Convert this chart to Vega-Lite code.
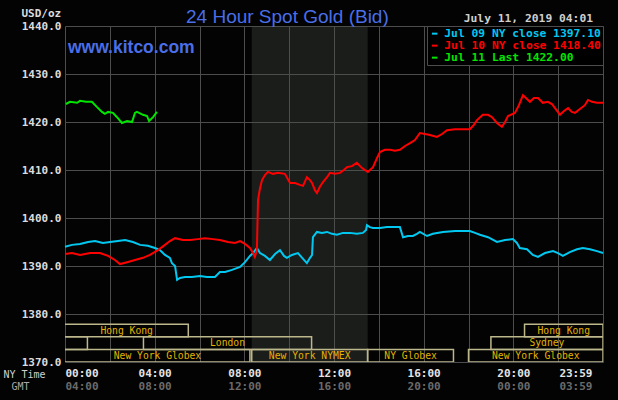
{
  "$schema": "https://vega.github.io/schema/vega-lite/v6.json",
  "width": 538,
  "height": 336,
  "autosize": {"type": "none"},
  "padding": {"left": 65, "top": 26, "right": 15, "bottom": 38},
  "background": "#030303",
  "config": {
    "view": {"stroke": null},
    "axis": {
      "domain": false,
      "ticks": false,
      "gridColor": "#4d4d4d",
      "gridWidth": 1,
      "labelFont": "DejaVu Sans Mono",
      "labelFontWeight": "bold",
      "labelFontSize": 11
    }
  },
  "title": {
    "text": "24 Hour Spot Gold (Bid)",
    "anchor": "start",
    "frame": "group",
    "dx": 121,
    "dy": 39,
    "offset": 4,
    "baseline": "alphabetic",
    "font": "Liberation Sans",
    "fontSize": 19,
    "fontWeight": "normal",
    "color": "#4a6ee8"
  },
  "datasets": {
    "nymex": [{"start": 8.33, "end": 13.5}],
    "sessions": [
      {"label": "Hong Kong", "start": -1.2, "end": 5.5, "lane": 2},
      {"label": "Hong Kong", "start": 20.5, "end": 24, "lane": 2},
      {"label": "", "start": -2, "end": 1, "lane": 1},
      {"label": "London", "start": 3.5, "end": 11, "lane": 1},
      {"label": "Sydney", "start": 19, "end": 24, "lane": 1},
      {"label": "New York Globex", "start": -0.95, "end": 8.25, "lane": 0},
      {"label": "New York NYMEX", "start": 8.33, "end": 13.5, "lane": 0},
      {"label": "NY Globex", "start": 13.5, "end": 17.33, "lane": 0},
      {"label": "New York Globex", "start": 18, "end": 24, "lane": 0}
    ],
    "gold": [
      {"s": "Jul 09", "h": 0, "p": 1394.0}, {"s": "Jul 09", "h": 0.31, "p": 1394.4}, {"s": "Jul 09", "h": 0.67, "p": 1394.6}, {"s": "Jul 09", "h": 1.03, "p": 1395.0}, {"s": "Jul 09", "h": 1.34, "p": 1395.2}, {"s": "Jul 09", "h": 1.69, "p": 1394.8}, {"s": "Jul 09", "h": 2.01, "p": 1395.0}, {"s": "Jul 09", "h": 2.36, "p": 1395.2}, {"s": "Jul 09", "h": 2.68, "p": 1395.4}, {"s": "Jul 09", "h": 3.03, "p": 1395.0}, {"s": "Jul 09", "h": 3.35, "p": 1394.4}, {"s": "Jul 09", "h": 3.70, "p": 1394.2}, {"s": "Jul 09", "h": 4.01, "p": 1393.75}, {"s": "Jul 09", "h": 4.24, "p": 1393.3}, {"s": "Jul 09", "h": 4.46, "p": 1392.3}, {"s": "Jul 09", "h": 4.68, "p": 1391.7}, {"s": "Jul 09", "h": 4.77, "p": 1390.6}, {"s": "Jul 09", "h": 4.91, "p": 1390.0}, {"s": "Jul 09", "h": 5.00, "p": 1387.1}, {"s": "Jul 09", "h": 5.13, "p": 1387.5}, {"s": "Jul 09", "h": 5.35, "p": 1387.7}, {"s": "Jul 09", "h": 5.66, "p": 1387.7}, {"s": "Jul 09", "h": 6.02, "p": 1387.9}, {"s": "Jul 09", "h": 6.33, "p": 1387.7}, {"s": "Jul 09", "h": 6.69, "p": 1387.7}, {"s": "Jul 09", "h": 6.91, "p": 1388.75}, {"s": "Jul 09", "h": 7.14, "p": 1388.75}, {"s": "Jul 09", "h": 7.45, "p": 1389.2}, {"s": "Jul 09", "h": 7.81, "p": 1389.8}, {"s": "Jul 09", "h": 8.03, "p": 1390.8}, {"s": "Jul 09", "h": 8.25, "p": 1392.1}, {"s": "Jul 09", "h": 8.39, "p": 1392.7}, {"s": "Jul 09", "h": 8.56, "p": 1393.75}, {"s": "Jul 09", "h": 8.70, "p": 1392.7}, {"s": "Jul 09", "h": 8.92, "p": 1392.1}, {"s": "Jul 09", "h": 9.14, "p": 1391.25}, {"s": "Jul 09", "h": 9.37, "p": 1392.5}, {"s": "Jul 09", "h": 9.59, "p": 1393.3}, {"s": "Jul 09", "h": 9.77, "p": 1392.1}, {"s": "Jul 09", "h": 9.90, "p": 1391.7}, {"s": "Jul 09", "h": 10.12, "p": 1392.3}, {"s": "Jul 09", "h": 10.39, "p": 1392.7}, {"s": "Jul 09", "h": 10.62, "p": 1391.5}, {"s": "Jul 09", "h": 10.79, "p": 1390.6}, {"s": "Jul 09", "h": 10.93, "p": 1391.7}, {"s": "Jul 09", "h": 11.02, "p": 1392.3}, {"s": "Jul 09", "h": 11.06, "p": 1396.0}, {"s": "Jul 09", "h": 11.24, "p": 1397.1}, {"s": "Jul 09", "h": 11.46, "p": 1396.9}, {"s": "Jul 09", "h": 11.69, "p": 1397.1}, {"s": "Jul 09", "h": 11.91, "p": 1396.7}, {"s": "Jul 09", "h": 12.13, "p": 1396.5}, {"s": "Jul 09", "h": 12.40, "p": 1396.9}, {"s": "Jul 09", "h": 12.71, "p": 1396.9}, {"s": "Jul 09", "h": 13.02, "p": 1396.7}, {"s": "Jul 09", "h": 13.29, "p": 1396.9}, {"s": "Jul 09", "h": 13.43, "p": 1397.5}, {"s": "Jul 09", "h": 13.47, "p": 1398.5}, {"s": "Jul 09", "h": 13.60, "p": 1398.1}, {"s": "Jul 09", "h": 13.74, "p": 1397.9}, {"s": "Jul 09", "h": 14.05, "p": 1397.9}, {"s": "Jul 09", "h": 14.36, "p": 1398.1}, {"s": "Jul 09", "h": 14.63, "p": 1398.1}, {"s": "Jul 09", "h": 14.94, "p": 1398.1}, {"s": "Jul 09", "h": 15.08, "p": 1396.0}, {"s": "Jul 09", "h": 15.30, "p": 1396.25}, {"s": "Jul 09", "h": 15.52, "p": 1396.25}, {"s": "Jul 09", "h": 15.70, "p": 1396.7}, {"s": "Jul 09", "h": 15.83, "p": 1397.1}, {"s": "Jul 09", "h": 16.15, "p": 1396.25}, {"s": "Jul 09", "h": 16.41, "p": 1396.7}, {"s": "Jul 09", "h": 16.86, "p": 1397.1}, {"s": "Jul 09", "h": 17.40, "p": 1397.3}, {"s": "Jul 09", "h": 18.06, "p": 1397.3}, {"s": "Jul 09", "h": 18.29, "p": 1396.9}, {"s": "Jul 09", "h": 18.51, "p": 1396.5}, {"s": "Jul 09", "h": 18.87, "p": 1396.0}, {"s": "Jul 09", "h": 19.27, "p": 1395.0}, {"s": "Jul 09", "h": 19.63, "p": 1395.4}, {"s": "Jul 09", "h": 19.98, "p": 1395.6}, {"s": "Jul 09", "h": 20.16, "p": 1394.8}, {"s": "Jul 09", "h": 20.29, "p": 1393.75}, {"s": "Jul 09", "h": 20.61, "p": 1393.5}, {"s": "Jul 09", "h": 20.87, "p": 1392.3}, {"s": "Jul 09", "h": 21.10, "p": 1391.9}, {"s": "Jul 09", "h": 21.41, "p": 1392.7}, {"s": "Jul 09", "h": 21.77, "p": 1393.1}, {"s": "Jul 09", "h": 21.99, "p": 1392.7}, {"s": "Jul 09", "h": 22.21, "p": 1392.1}, {"s": "Jul 09", "h": 22.52, "p": 1392.9}, {"s": "Jul 09", "h": 22.84, "p": 1393.5}, {"s": "Jul 09", "h": 23.10, "p": 1393.75}, {"s": "Jul 09", "h": 23.42, "p": 1393.5}, {"s": "Jul 09", "h": 23.73, "p": 1393.1}, {"s": "Jul 09", "h": 24.0, "p": 1392.7},
      {"s": "Jul 10", "h": 0, "p": 1392.5}, {"s": "Jul 10", "h": 0.31, "p": 1392.7}, {"s": "Jul 10", "h": 0.67, "p": 1392.3}, {"s": "Jul 10", "h": 1.12, "p": 1392.7}, {"s": "Jul 10", "h": 1.56, "p": 1392.7}, {"s": "Jul 10", "h": 1.92, "p": 1392.1}, {"s": "Jul 10", "h": 2.23, "p": 1391.25}, {"s": "Jul 10", "h": 2.45, "p": 1390.4}, {"s": "Jul 10", "h": 2.77, "p": 1390.8}, {"s": "Jul 10", "h": 3.12, "p": 1391.25}, {"s": "Jul 10", "h": 3.48, "p": 1391.7}, {"s": "Jul 10", "h": 3.79, "p": 1392.3}, {"s": "Jul 10", "h": 4.15, "p": 1393.3}, {"s": "Jul 10", "h": 4.46, "p": 1394.4}, {"s": "Jul 10", "h": 4.68, "p": 1395.2}, {"s": "Jul 10", "h": 4.91, "p": 1395.8}, {"s": "Jul 10", "h": 5.26, "p": 1395.4}, {"s": "Jul 10", "h": 5.58, "p": 1395.4}, {"s": "Jul 10", "h": 5.93, "p": 1395.6}, {"s": "Jul 10", "h": 6.24, "p": 1395.8}, {"s": "Jul 10", "h": 6.60, "p": 1395.6}, {"s": "Jul 10", "h": 6.91, "p": 1395.4}, {"s": "Jul 10", "h": 7.27, "p": 1395.0}, {"s": "Jul 10", "h": 7.58, "p": 1394.8}, {"s": "Jul 10", "h": 7.81, "p": 1395.2}, {"s": "Jul 10", "h": 8.03, "p": 1394.6}, {"s": "Jul 10", "h": 8.25, "p": 1393.75}, {"s": "Jul 10", "h": 8.39, "p": 1392.7}, {"s": "Jul 10", "h": 8.47, "p": 1391.9}, {"s": "Jul 10", "h": 8.56, "p": 1393.3}, {"s": "Jul 10", "h": 8.61, "p": 1403.75}, {"s": "Jul 10", "h": 8.70, "p": 1406.25}, {"s": "Jul 10", "h": 8.79, "p": 1407.9}, {"s": "Jul 10", "h": 8.92, "p": 1408.96}, {"s": "Jul 10", "h": 9.05, "p": 1409.6}, {"s": "Jul 10", "h": 9.28, "p": 1409.2}, {"s": "Jul 10", "h": 9.50, "p": 1409.4}, {"s": "Jul 10", "h": 9.81, "p": 1409.2}, {"s": "Jul 10", "h": 10.04, "p": 1407.3}, {"s": "Jul 10", "h": 10.26, "p": 1407.3}, {"s": "Jul 10", "h": 10.48, "p": 1406.9}, {"s": "Jul 10", "h": 10.62, "p": 1406.7}, {"s": "Jul 10", "h": 10.79, "p": 1408.5}, {"s": "Jul 10", "h": 10.93, "p": 1407.9}, {"s": "Jul 10", "h": 11.02, "p": 1407.3}, {"s": "Jul 10", "h": 11.15, "p": 1405.8}, {"s": "Jul 10", "h": 11.24, "p": 1405.2}, {"s": "Jul 10", "h": 11.37, "p": 1406.5}, {"s": "Jul 10", "h": 11.51, "p": 1407.5}, {"s": "Jul 10", "h": 11.69, "p": 1408.5}, {"s": "Jul 10", "h": 11.82, "p": 1409.4}, {"s": "Jul 10", "h": 12.04, "p": 1409.2}, {"s": "Jul 10", "h": 12.27, "p": 1409.4}, {"s": "Jul 10", "h": 12.44, "p": 1410.0}, {"s": "Jul 10", "h": 12.58, "p": 1410.6}, {"s": "Jul 10", "h": 12.80, "p": 1410.8}, {"s": "Jul 10", "h": 13.02, "p": 1411.5}, {"s": "Jul 10", "h": 13.25, "p": 1410.4}, {"s": "Jul 10", "h": 13.51, "p": 1409.6}, {"s": "Jul 10", "h": 13.74, "p": 1410.6}, {"s": "Jul 10", "h": 13.92, "p": 1412.5}, {"s": "Jul 10", "h": 14.05, "p": 1413.75}, {"s": "Jul 10", "h": 14.27, "p": 1414.2}, {"s": "Jul 10", "h": 14.50, "p": 1414.2}, {"s": "Jul 10", "h": 14.72, "p": 1414.0}, {"s": "Jul 10", "h": 14.94, "p": 1414.2}, {"s": "Jul 10", "h": 15.17, "p": 1415.0}, {"s": "Jul 10", "h": 15.39, "p": 1415.6}, {"s": "Jul 10", "h": 15.61, "p": 1416.25}, {"s": "Jul 10", "h": 15.83, "p": 1417.7}, {"s": "Jul 10", "h": 16.06, "p": 1417.5}, {"s": "Jul 10", "h": 16.28, "p": 1417.3}, {"s": "Jul 10", "h": 16.59, "p": 1416.9}, {"s": "Jul 10", "h": 16.82, "p": 1417.5}, {"s": "Jul 10", "h": 17.04, "p": 1418.3}, {"s": "Jul 10", "h": 17.40, "p": 1418.5}, {"s": "Jul 10", "h": 17.75, "p": 1418.5}, {"s": "Jul 10", "h": 18.06, "p": 1418.5}, {"s": "Jul 10", "h": 18.24, "p": 1419.4}, {"s": "Jul 10", "h": 18.38, "p": 1420.4}, {"s": "Jul 10", "h": 18.64, "p": 1421.5}, {"s": "Jul 10", "h": 18.87, "p": 1421.5}, {"s": "Jul 10", "h": 19.05, "p": 1421.0}, {"s": "Jul 10", "h": 19.27, "p": 1419.8}, {"s": "Jul 10", "h": 19.49, "p": 1419.0}, {"s": "Jul 10", "h": 19.63, "p": 1420.0}, {"s": "Jul 10", "h": 19.76, "p": 1421.25}, {"s": "Jul 10", "h": 20.07, "p": 1421.9}, {"s": "Jul 10", "h": 20.25, "p": 1423.5}, {"s": "Jul 10", "h": 20.43, "p": 1425.6}, {"s": "Jul 10", "h": 20.61, "p": 1424.8}, {"s": "Jul 10", "h": 20.74, "p": 1424.2}, {"s": "Jul 10", "h": 20.92, "p": 1425.0}, {"s": "Jul 10", "h": 21.10, "p": 1425.0}, {"s": "Jul 10", "h": 21.32, "p": 1424.0}, {"s": "Jul 10", "h": 21.54, "p": 1424.2}, {"s": "Jul 10", "h": 21.72, "p": 1423.75}, {"s": "Jul 10", "h": 21.86, "p": 1422.9}, {"s": "Jul 10", "h": 22.08, "p": 1421.5}, {"s": "Jul 10", "h": 22.26, "p": 1422.3}, {"s": "Jul 10", "h": 22.44, "p": 1422.9}, {"s": "Jul 10", "h": 22.61, "p": 1422.1}, {"s": "Jul 10", "h": 22.75, "p": 1421.9}, {"s": "Jul 10", "h": 22.97, "p": 1422.7}, {"s": "Jul 10", "h": 23.19, "p": 1423.5}, {"s": "Jul 10", "h": 23.33, "p": 1424.6}, {"s": "Jul 10", "h": 23.51, "p": 1424.2}, {"s": "Jul 10", "h": 23.73, "p": 1424.0}, {"s": "Jul 10", "h": 24.0, "p": 1424.0},
      {"s": "Jul 11", "h": 0.04, "p": 1423.75}, {"s": "Jul 11", "h": 0.22, "p": 1424.2}, {"s": "Jul 11", "h": 0.54, "p": 1424.0}, {"s": "Jul 11", "h": 0.67, "p": 1424.4}, {"s": "Jul 11", "h": 0.94, "p": 1424.2}, {"s": "Jul 11", "h": 1.20, "p": 1424.2}, {"s": "Jul 11", "h": 1.43, "p": 1423.1}, {"s": "Jul 11", "h": 1.65, "p": 1422.1}, {"s": "Jul 11", "h": 1.78, "p": 1421.7}, {"s": "Jul 11", "h": 1.92, "p": 1422.1}, {"s": "Jul 11", "h": 2.14, "p": 1421.9}, {"s": "Jul 11", "h": 2.32, "p": 1421.0}, {"s": "Jul 11", "h": 2.54, "p": 1419.8}, {"s": "Jul 11", "h": 2.77, "p": 1420.2}, {"s": "Jul 11", "h": 2.99, "p": 1420.0}, {"s": "Jul 11", "h": 3.12, "p": 1421.9}, {"s": "Jul 11", "h": 3.21, "p": 1422.1}, {"s": "Jul 11", "h": 3.48, "p": 1421.5}, {"s": "Jul 11", "h": 3.66, "p": 1421.25}, {"s": "Jul 11", "h": 3.75, "p": 1420.2}, {"s": "Jul 11", "h": 3.93, "p": 1421.0}, {"s": "Jul 11", "h": 4.10, "p": 1422.1}
    ]
  },
  "layer": [
    {
      "data": {"name": "nymex"},
      "mark": {"type": "rect", "fill": "#4c524c", "opacity": 0.34},
      "encoding": {
        "x": {
          "field": "start", "type": "quantitative",
          "scale": {"domain": [0, 24], "nice": false, "zero": false},
          "axis": {
            "orient": "bottom",
            "offset": 13,
            "grid": false,
            "values": [0, 2, 4, 6, 8, 10, 12, 14, 16, 18, 20, 22, 24],
            "labelExpr": "datum.value % 4 != 0 ? '' : datum.value == 24 ? '03:59' : (((datum.value + 4) % 24) < 10 ? '0' : '') + ((datum.value + 4) % 24) + ':00'",
            "labelOffset": {"condition": {"test": "datum.value == 24", "value": -11}, "value": 0},
            "labelColor": "#6a6a6a",
            "labelPadding": 5,
            "title": "GMT",
            "titleFont": "DejaVu Sans Mono",
            "titleFontSize": 10,
            "titleFontWeight": "normal",
            "titleColor": "#a8a8a8",
            "titleAngle": 0,
            "titleAlign": "left",
            "titleBaseline": "middle",
            "titleX": -54,
            "titleY": 11
          }
        },
        "x2": {"field": "end"}
      }
    },
    {
      "data": {"name": "sessions"},
      "transform": [
        {"calculate": "(max(datum.start, 0) + datum.end) / 2", "as": "mid"},
        {"calculate": "datum.lane + 0.5", "as": "yc"},
        {"calculate": "datum.lane + 1", "as": "top"}
      ],
      "layer": [
        {
          "mark": {"type": "rect", "fill": "#000000", "fillOpacity": 0, "stroke": "#bdb78c", "strokeWidth": 1.5, "clip": true},
          "encoding": {
            "x": {"field": "start", "type": "quantitative", "scale": {"domain": [0, 24], "nice": false, "zero": false}, "axis": null},
            "x2": {"field": "end"},
            "y": {"field": "lane", "type": "quantitative", "scale": {"domain": [0, 26.7], "nice": false, "zero": false}, "axis": null},
            "y2": {"field": "top"}
          }
        },
        {
          "mark": {"type": "text", "font": "DejaVu Sans Mono", "fontSize": 9.7, "color": "#e3b400", "baseline": "middle", "align": "center"},
          "encoding": {
            "x": {"field": "mid", "type": "quantitative", "scale": {"domain": [0, 24], "nice": false, "zero": false}, "axis": null},
            "y": {"field": "yc", "type": "quantitative", "scale": {"domain": [0, 26.7], "nice": false, "zero": false}, "axis": null},
            "text": {"field": "label"}
          }
        }
      ]
    },
    {
      "layer": [
        {
          "data": {"name": "gold"},
          "mark": {"type": "line", "strokeWidth": 2},
          "encoding": {
            "x": {
              "field": "h", "type": "quantitative",
              "scale": {"domain": [0, 24], "nice": false, "zero": false},
              "axis": {
                "orient": "bottom",
                "grid": true,
                "values": [0, 2, 4, 6, 8, 10, 12, 14, 16, 18, 20, 22, 24],
                "labelExpr": "datum.value % 4 != 0 ? '' : datum.value == 24 ? '23:59' : (datum.value < 10 ? '0' : '') + datum.value + ':00'",
                "labelOffset": {"condition": {"test": "datum.value == 24", "value": -11}, "value": 0},
                "labelColor": "#e4e4e4",
                "labelPadding": 5,
                "title": "NY Time",
                "titleFont": "DejaVu Sans Mono",
                "titleFontSize": 10,
                "titleFontWeight": "normal",
                "titleColor": "#cfcfcf",
                "titleAngle": 0,
                "titleAlign": "left",
                "titleBaseline": "middle",
                "titleX": -62,
                "titleY": 12
              }
            },
            "y": {
              "field": "p", "type": "quantitative",
              "scale": {"domain": [1370, 1440], "nice": false, "zero": false},
              "axis": {
                "values": [1370, 1380, 1390, 1400, 1410, 1420, 1430, 1440],
                "labelExpr": "format(datum.value, '.1f')",
                "labelColor": "#dcdcdc",
                "labelPadding": 4,
                "grid": true,
                "title": "USD/oz",
                "titleFont": "DejaVu Sans Mono",
                "titleFontSize": 11,
                "titleFontWeight": "bold",
                "titleColor": "#dcdcdc",
                "titleAngle": 0,
                "titleAlign": "left",
                "titleBaseline": "middle",
                "titleX": -44,
                "titleY": -13
              }
            },
            "color": {
              "field": "s", "type": "nominal",
              "scale": {"domain": ["Jul 09", "Jul 10", "Jul 11"], "range": ["#00c8f0", "#ff0000", "#00e600"]},
              "legend": {
                "title": null,
                "orient": "top-right",
                "offset": 0,
                "fillColor": "#000000",
                "strokeColor": "#4d4d4d",
                "padding": 2,
                "rowPadding": 0,
                "symbolType": "stroke",
                "symbolSize": 30,
                "symbolStrokeWidth": 2,
                "symbolOffset": 0,
                "labelOffset": 4,
                "labelFont": "DejaVu Sans Mono",
                "labelFontSize": 11.3,
                "labelFontWeight": "bold",
                "labelLimit": 300,
                "labelExpr": "datum.label == 'Jul 09' ? 'Jul 09 NY close 1397.10' : datum.label == 'Jul 10' ? 'Jul 10 NY close 1418.40' : 'Jul 11 Last 1422.00'",
                "encode": {"labels": {"update": {"fill": {"scale": "color", "field": "value"}}}}
              }
            }
          }
        },
        {
          "data": {"values": [{"t": "www.kitco.com"}]},
          "mark": {"type": "text", "align": "left", "baseline": "alphabetic", "font": "Liberation Sans", "fontWeight": "bold", "fontSize": 17.5, "color": "#4a6ee8"},
          "encoding": {
            "x": {"datum": 0.13},
            "y": {"datum": 1434.4},
            "text": {"field": "t"}
          }
        },
        {
          "data": {"values": [{"t": "July 11, 2019 04:01"}]},
          "mark": {"type": "text", "align": "right", "baseline": "middle", "font": "DejaVu Sans Mono", "fontWeight": "bold", "fontSize": 11.3, "color": "#cfcfcf", "dx": -10, "dy": -7},
          "encoding": {
            "x": {"datum": 24},
            "y": {"datum": 1440},
            "text": {"field": "t"}
          }
        }
      ]
    }
  ],
  "resolve": {"scale": {"y": "independent"}, "axis": {"x": "independent", "y": "independent"}}
}
